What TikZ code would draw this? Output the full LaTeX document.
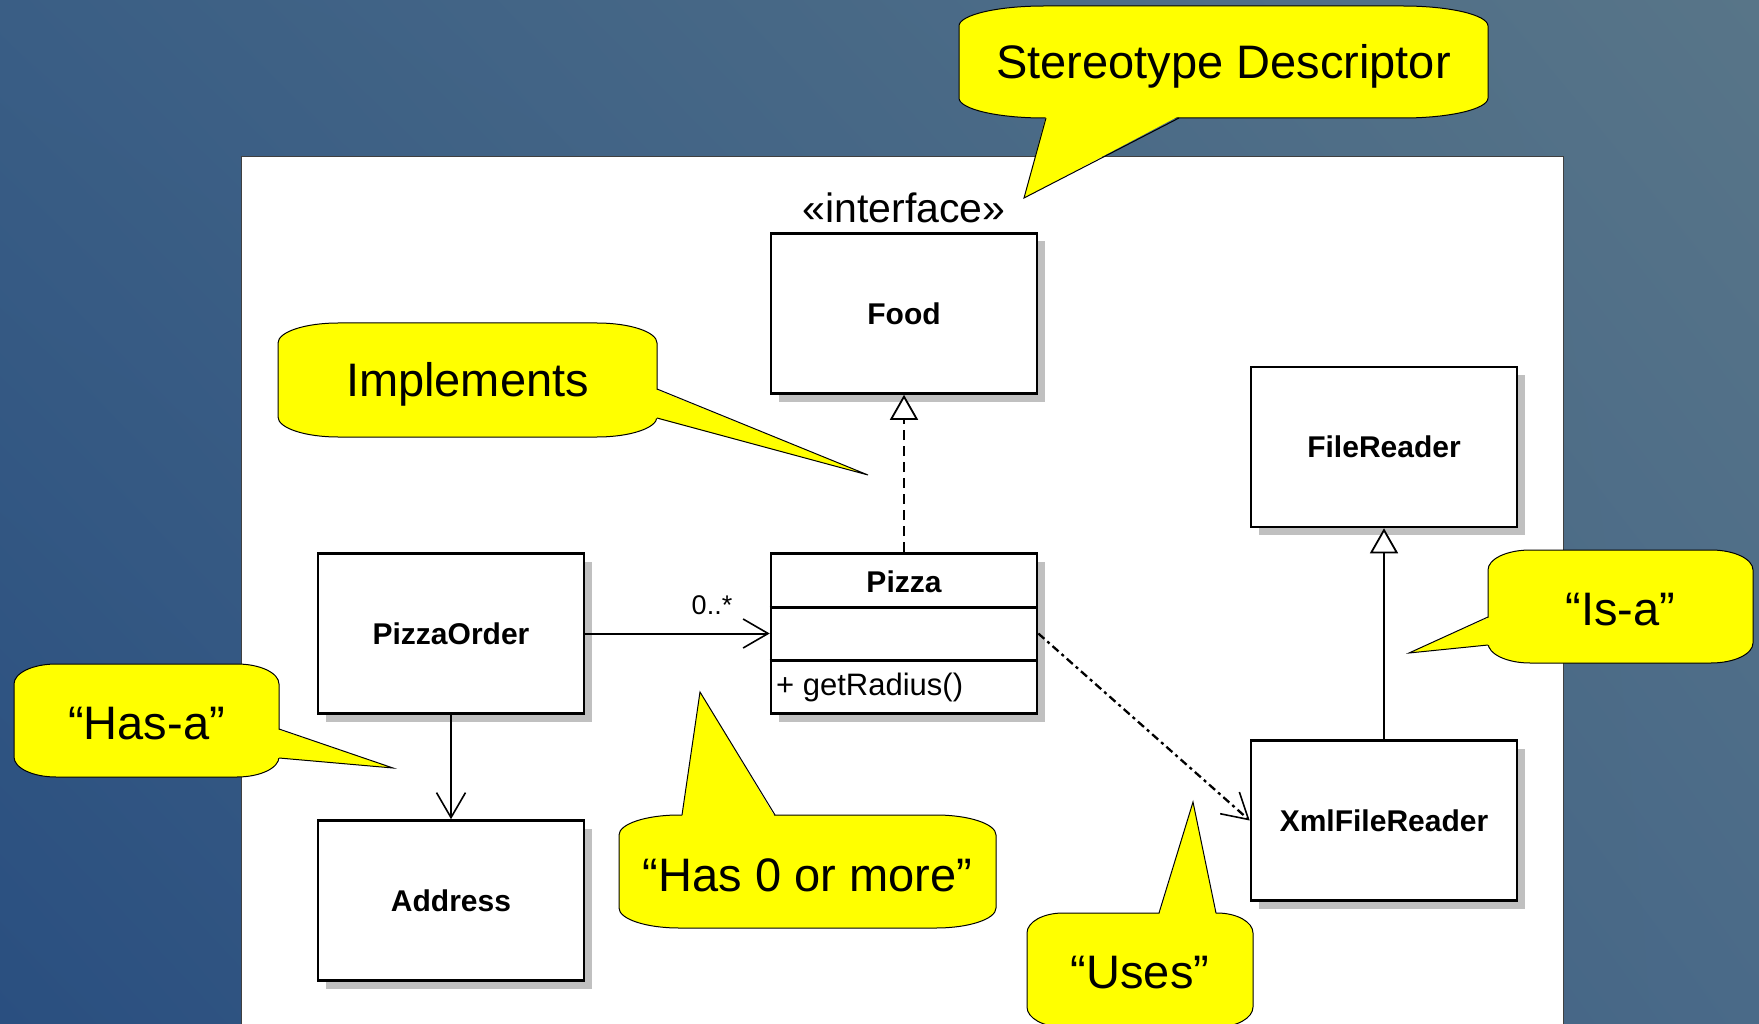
\documentclass[tikz,border=0pt]{standalone}
\usepackage{fontspec}
\setmainfont{Liberation Sans}
\usetikzlibrary{arrows.meta,shadows,shadings,calc}
\definecolor{bgTL}{HTML}{3A5E85}
\definecolor{bgTR}{HTML}{587588}
\definecolor{bgBL}{HTML}{2A4F80}
\definecolor{bgBR}{HTML}{4A6A88}
\definecolor{calloutyellow}{HTML}{FFFF00}
\definecolor{shadowgray}{HTML}{C0C0C0}
\tikzset{
  umlbox/.style={draw=black, line width=2.6pt, fill=white, minimum width=266pt, minimum height=160pt,
    inner sep=0pt, font=\fontsize{30}{36}\selectfont\bfseries,
    drop shadow={shadow xshift=8pt, shadow yshift=-8pt, fill=shadowgray, opacity=1}},
  callshape/.style={draw=black, line width=1pt, fill=calloutyellow},
  calltext/.style={inner sep=0pt, font=\fontsize{47}{56}\selectfont},
  tailfill/.style={fill=calloutyellow},
  tailline/.style={draw=black, line width=1pt, line join=miter},
  conn/.style={draw=black, line width=2pt},
  openarrow/.style={-{Straight Barb[length=25pt, width=29pt, line width=1.6pt]}},
  hollowtri/.style={-{Triangle[length=25pt, width=28pt, fill=white, line width=1.8pt]}},
}
% #1 x1, #2 y1, #3 x2, #4 y2, #5 horizontal corner radius, #6 vertical corner radius
\newcommand{\ellcallout}[6]{%
  \path[callshape] (#1+#5,#2) -- (#3-#5,#2)
    .. controls (#3-0.448*#5,#2) and (#3,#2+0.448*#6) .. (#3,#2+#6)
    -- (#3,#4-#6)
    .. controls (#3,#4-0.448*#6) and (#3-0.448*#5,#4) .. (#3-#5,#4)
    -- (#1+#5,#4)
    .. controls (#1+0.448*#5,#4) and (#1,#4-0.448*#6) .. (#1,#4-#6)
    -- (#1,#2+#6)
    .. controls (#1,#2+0.448*#6) and (#1+0.448*#5,#2) .. (#1+#5,#2) -- cycle;}
\begin{document}
\begin{tikzpicture}[x=1pt, y=-1pt]
\useasboundingbox (0,0) rectangle (1759,1024);
\clip (0,0) rectangle (1759,1024);
% background
\shade[upper left=bgTL, upper right=bgTR, lower left=bgBL, lower right=bgBR] (0,0) rectangle (1759,1024);
% white panel
\fill[white] (241,157) rectangle (1563,1030);
\draw[black!75, line width=1pt] (241,1030) -- (241,157) -- (1563,157) -- (1563,1030);

% UML classes
\node[umlbox] (food) at (904,313.5) {Food};
\node[font=\fontsize{41}{48}\selectfont, anchor=south] (stereo) at (904,226) {«interface»};
\node[umlbox] (filereader) at (1384,447) {FileReader};
\node[umlbox] (order) at (451,633.5) {PizzaOrder};
\node[umlbox] (pizza) at (904,633.5) {};
\node[font=\fontsize{30}{36}\selectfont\bfseries] (pizzaname) at (904,582) {Pizza};
\node[font=\fontsize{31}{36}\selectfont, anchor=west, inner sep=0pt] (pizzaop) at (776,687) {+ getRadius()};
\draw[line width=2.2pt] (pizza.west |- 0,607.5) -- (pizza.east |- 0,607.5);
\draw[line width=2.2pt] (pizza.west |- 0,660.5) -- (pizza.east |- 0,660.5);
\node[umlbox] (address) at (451,900.5) {Address};
\node[umlbox] (xml) at (1384,820.5) {XmlFileReader};

% connectors
\draw[conn, hollowtri, dash pattern=on 10pt off 6pt] (pizza.north) -- (food.south);
\draw[conn, openarrow] (order.east) -- (pizza.west);
\node[font=\fontsize{27}{30}\selectfont] (mult) at (712,605) {0..*};
\draw[conn, openarrow] (order.south) -- (address.north);
\draw[conn, hollowtri] (xml.north) -- (filereader.south);
\draw[conn, openarrow, line width=2.3pt, dash pattern=on 8pt off 4pt on 3pt off 4pt] (pizza.east) -- (xml.west);

% callouts
% Stereotype Descriptor
\ellcallout{959}{6}{1488}{118}{85}{20}
\node[calltext] (cstereo) at (1223.5,66) {Stereotype Descriptor};
\coordinate (tipstereo) at (1024,198);
\fill[tailfill] (1046,116) -- (tipstereo) -- (1179,116) -- (1179,112) -- (1046,112) -- cycle;
\draw[tailline] (1046,118) -- (tipstereo) -- (1179,118);
% Implements
\ellcallout{278}{323}{657}{437}{60}{20}
\node[calltext] (cimpl) at (467.5,384) {Implements};
\coordinate (tipimpl) at (868,475);
\fill[tailfill] (655,389) -- (tipimpl) -- (655,418) -- (651,418) -- (651,389) -- cycle;
\draw[tailline] (657,389) -- (tipimpl) -- (657,418);
% Has-a
\ellcallout{14}{664}{279}{777}{42}{20}
\node[calltext] (chasa) at (146.5,724) {“Has-a”};
\coordinate (tiphasa) at (393,768);
\fill[tailfill] (277,729) -- (tiphasa) -- (277,758) -- (273,758) -- (273,729) -- cycle;
\draw[tailline] (279,729) -- (tiphasa) -- (279,758);
% Is-a
\ellcallout{1488}{550}{1753}{663}{42}{20}
\node[calltext] (cisa) at (1620.5,610) {“Is-a”};
\coordinate (tipisa) at (1409,653);
\fill[tailfill] (1490,617) -- (tipisa) -- (1490,645) -- (1494,645) -- (1494,617) -- cycle;
\draw[tailline] (1488,617) -- (tipisa) -- (1488,645);
% Has 0 or more
\ellcallout{619}{815}{996}{928}{60}{20}
\node[calltext] (chas0) at (807.5,875) {“Has 0 or more”};
\coordinate (tiphas0) at (700,692);
\fill[tailfill] (682,817) -- (tiphas0) -- (775,817) -- (775,821) -- (682,821) -- cycle;
\draw[tailline] (682,815) -- (tiphas0) -- (775,815);
% Uses
\ellcallout{1027}{913}{1253}{1027}{36}{20}
\node[calltext] (cuses) at (1140,973) {“Uses”};
\coordinate (tipuses) at (1193,802);
\fill[tailfill] (1159,915) -- (tipuses) -- (1216,915) -- (1216,919) -- (1159,919) -- cycle;
\draw[tailline] (1159,913) -- (tipuses) -- (1216,913);
\end{tikzpicture}
\end{document}
